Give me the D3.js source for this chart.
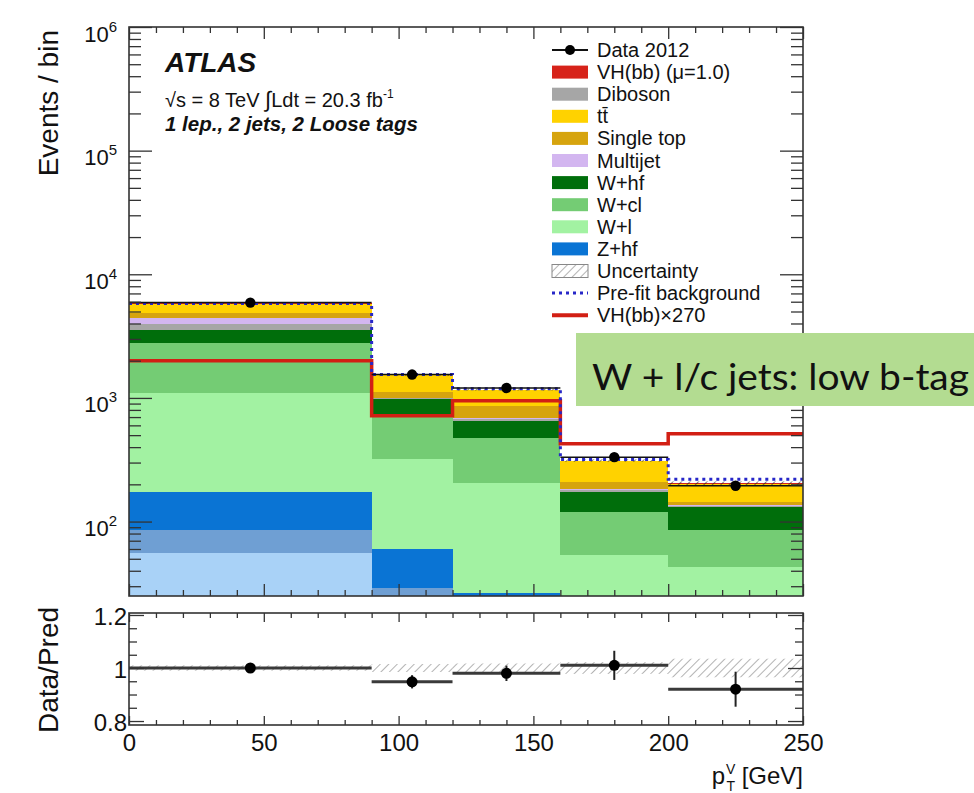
<!DOCTYPE html>
<html>
<head>
<meta charset="utf-8">
<script src="https://cdn.jsdelivr.net/npm/d3@7"></script>
<style>
  body { margin: 0; background: #fff; }
  svg { display: block; }
  text { font-family: "Liberation Sans", Arial, Helvetica, sans-serif; fill: #111; }
</style>
</head>
<body>
<svg id="chart" width="974" height="793"></svg>
<script>
// ---- binning (pT^V in GeV) ----
const binEdges = [0, 90, 120, 160, 200, 250];

// ---- stacked predictions per bin, bottom to top ----
const zl        = [56, 20, 14, 6, 4];
const zcl       = [29.5, 9, 5, 3, 2];
const zhf       = [87.5, 31, 7.5, 4, 3];
const wl        = [921, 261, 180, 41, 34];
const wcl       = [1700, 423, 267, 66, 42.5];
const whf       = [770, 241, 172, 52, 44.5];
const diboson   = [420, 15, 30, 8, 4];
const multijet  = [430, 5, 14, 2, 1];
const singleTop = [450, 117, 173, 28, 9];
const ttbar     = [936, 400, 302, 100, 58];
const vhbb      = [7.4, 2.65, 3.5, 1.6, 1.9];

// ---- overlays ----
const dataCounts  = [5900, 1545, 1202, 332, 195];
const prefitBkg   = [5800, 1545, 1185, 318, 220];
const vhScaled    = [2000, 716, 948, 425, 512];   // VH(bb) x 270
const uncFraction = [0.01, 0.015, 0.017, 0.022, 0.035];

// ---- ratio panel ----
const ratioValues = [1.0, 0.948, 0.98, 1.01, 0.92];
const ratioErrors = [0.013, 0.025, 0.029, 0.055, 0.066];

// ---- tick labels ----
const xTickLabels = [0, 50, 100, 150, 200, 250];
const logTickLabels = [100, 1000, 10000, 100000, 1000000];
const ratioTickLabels = [0.8, 1, 1.2];

const layers = [
  { key: "zl",        values: zl,        color: "#a9d2f7" },
  { key: "zcl",       values: zcl,       color: "#6f9fd3" },
  { key: "zhf",       values: zhf,       color: "#0a74d4" },
  { key: "wl",        values: wl,        color: "#a2f2a2" },
  { key: "wcl",       values: wcl,       color: "#74cc74" },
  { key: "whf",       values: whf,       color: "#006e0b" },
  { key: "diboson",   values: diboson,   color: "#a6a6a6" },
  { key: "multijet",  values: multijet,  color: "#d3b6f0" },
  { key: "singleTop", values: singleTop, color: "#d6a40e" },
  { key: "ttbar",     values: ttbar,     color: "#ffd200" },
  { key: "vhbb",      values: vhbb,      color: "#d7231a" }
];

const legendItems = [
  { label: "Data 2012",            type: "data" },
  { label: "VH(bb) (\u03bc=1.0)",  type: "fill", color: "#d7231a" },
  { label: "Diboson",              type: "fill", color: "#a6a6a6" },
  { label: "tt\u0304",             type: "fill", color: "#ffd200" },
  { label: "Single top",           type: "fill", color: "#d6a40e" },
  { label: "Multijet",             type: "fill", color: "#d3b6f0" },
  { label: "W+hf",                 type: "fill", color: "#006e0b" },
  { label: "W+cl",                 type: "fill", color: "#74cc74" },
  { label: "W+l",                  type: "fill", color: "#a2f2a2" },
  { label: "Z+hf",                 type: "fill", color: "#0a74d4" },
  { label: "Uncertainty",          type: "hatch" },
  { label: "Pre-fit background",   type: "prefit" },
  { label: "VH(bb)\u00d7270",      type: "redline" }
];

const svg = d3.select("#chart");
const L = 129, R = 803;
const mainTop = 27, mainBot = 596;
const ratTop = 613, ratBot = 725;

const x = d3.scaleLinear().domain([0, 250]).range([L, R]);
const y = d3.scaleLog().domain([25, 1e6]).range([mainBot, mainTop]).clamp(true);
const yr = d3.scaleLinear().domain([0.785, 1.2075]).range([ratBot, ratTop]);

// patterns and clips
const defs = svg.append("defs");
const hp = defs.append("pattern").attr("id", "hatch").attr("patternUnits", "userSpaceOnUse")
  .attr("width", 6).attr("height", 6).attr("patternTransform", "rotate(45)");
hp.append("line").attr("x1", 0).attr("y1", 0).attr("x2", 0).attr("y2", 6)
  .attr("stroke", "#222").attr("stroke-width", 1.2);
const hg = defs.append("pattern").attr("id", "hatchGray").attr("patternUnits", "userSpaceOnUse")
  .attr("width", 6).attr("height", 6).attr("patternTransform", "rotate(45)");
hg.append("line").attr("x1", 0).attr("y1", 0).attr("x2", 0).attr("y2", 6)
  .attr("stroke", "#8a8a8a").attr("stroke-width", 1.3);
defs.append("clipPath").attr("id", "clipMain").append("rect")
  .attr("x", L).attr("y", mainTop).attr("width", R - L).attr("height", mainBot - mainTop);
defs.append("clipPath").attr("id", "clipRatio").append("rect")
  .attr("x", L).attr("y", ratTop).attr("width", R - L).attr("height", ratBot - ratTop);

const bins = d3.range(binEdges.length - 1);

// ---------- main panel ----------
const gMain = svg.append("g").attr("clip-path", "url(#clipMain)");

const table = bins.map(i => {
  const row = {};
  layers.forEach(l => { row[l.key] = l.values[i]; });
  return row;
});
const stacked = d3.stack().keys(layers.map(l => l.key))(table);

stacked.forEach((series, li) => {
  gMain.append("g").selectAll("rect").data(series).join("rect")
    .attr("x", (d, i) => x(binEdges[i]))
    .attr("width", (d, i) => x(binEdges[i + 1]) - x(binEdges[i]))
    .attr("y", d => y(d[1]))
    .attr("height", d => Math.max(0, y(Math.max(d[0], 1)) - y(d[1])))
    .attr("fill", layers[li].color)
    .attr("shape-rendering", "crispEdges");
});

const totals = bins.map(i => d3.sum(layers, l => l.values[i]));

// uncertainty band
gMain.append("g").selectAll("rect").data(bins).join("rect")
  .attr("x", i => x(binEdges[i]))
  .attr("width", i => x(binEdges[i + 1]) - x(binEdges[i]))
  .attr("y", i => y(totals[i] * (1 + uncFraction[i])))
  .attr("height", i => y(totals[i] * (1 - uncFraction[i])) - y(totals[i] * (1 + uncFraction[i])))
  .attr("fill", "url(#hatch)");

// step lines
function stepPath(vals, scaleY) {
  const pts = [];
  bins.forEach(i => {
    pts.push([x(binEdges[i]), scaleY(vals[i])]);
    pts.push([x(binEdges[i + 1]), scaleY(vals[i])]);
  });
  return d3.line()(pts);
}

gMain.append("path").attr("d", stepPath(vhScaled, y))
  .attr("fill", "none").attr("stroke", "#d21f14").attr("stroke-width", 3.5);
gMain.append("path").attr("d", stepPath(prefitBkg, y))
  .attr("fill", "none").attr("stroke", "#2727c8").attr("stroke-width", 3)
  .attr("stroke-dasharray", "3,4");

// data points
const centers = bins.map(i => (binEdges[i] + binEdges[i + 1]) / 2);
const gData = gMain.append("g");
bins.forEach(i => {
  const n = dataCounts[i], e = Math.sqrt(n);
  gData.append("line").attr("x1", x(binEdges[i])).attr("x2", x(binEdges[i + 1]))
    .attr("y1", y(n)).attr("y2", y(n)).attr("stroke", "#111").attr("stroke-width", 1.5);
  gData.append("line").attr("x1", x(centers[i])).attr("x2", x(centers[i]))
    .attr("y1", y(n + e)).attr("y2", y(n - e)).attr("stroke", "#111").attr("stroke-width", 1.5);
  gData.append("circle").attr("cx", x(centers[i])).attr("cy", y(n)).attr("r", 5.2).attr("fill", "#000");
});

// frame & ticks (main)
function tickAxis(axisFn, scale, vals, size, tx, ty) {
  const g = svg.append("g").attr("transform", `translate(${tx},${ty})`)
    .call(axisFn(scale).tickValues(vals).tickSize(size).tickFormat(""));
  g.select(".domain").remove();
  g.selectAll(".tick line").attr("stroke", "#333").attr("stroke-width", 1.3);
  return g;
}
const xMajor = d3.range(0, 251, 50);
const xMinor = d3.range(0, 251, 10).filter(v => v % 50 !== 0);
const logMinor = [];
for (let k = 1; k <= 5; k++) for (let m = 2; m <= 9; m++) {
  const v = m * Math.pow(10, k);
  if (v >= 25 && v <= 1e6) logMinor.push(v);
}
tickAxis(d3.axisBottom, x, xMajor, -12, 0, mainBot);
tickAxis(d3.axisBottom, x, xMinor, -6, 0, mainBot);
tickAxis(d3.axisTop, x, xMajor, -12, 0, mainTop);
tickAxis(d3.axisTop, x, xMinor, -6, 0, mainTop);
tickAxis(d3.axisLeft, y, logTickLabels, -23, L, 0);
tickAxis(d3.axisLeft, y, logMinor, -12, L, 0);
tickAxis(d3.axisRight, y, logTickLabels, -23, R, 0);
tickAxis(d3.axisRight, y, logMinor, -12, R, 0);

svg.append("rect").attr("x", L).attr("y", mainTop).attr("width", R - L).attr("height", mainBot - mainTop)
  .attr("fill", "none").attr("stroke", "#333").attr("stroke-width", 1.6);

// log labels 10^n
const gLogLab = svg.append("g").attr("transform", `translate(${L},0)`)
  .call(d3.axisLeft(y).tickValues(logTickLabels).tickSize(0).tickPadding(0).tickFormat(""));
gLogLab.select(".domain").remove();
gLogLab.selectAll(".tick").each(function (d) {
  const t = d3.select(this).select("text")
    .attr("x", -12).attr("dy", null).attr("y", 14)
    .attr("text-anchor", "end").attr("font-size", 22).attr("fill", "#222")
    .style("font-family", '"Liberation Sans", Arial, sans-serif');
  t.append("tspan").text("10");
  t.append("tspan").text(Math.round(Math.log10(d))).attr("font-size", 15).attr("dy", -10);
});

// ---------- ratio panel ----------
const gRat = svg.append("g").attr("clip-path", "url(#clipRatio)");
gRat.append("g").selectAll("rect").data(bins).join("rect")
  .attr("x", i => x(binEdges[i]))
  .attr("width", i => x(binEdges[i + 1]) - x(binEdges[i]))
  .attr("y", i => yr(1 + uncFraction[i]))
  .attr("height", i => yr(1 - uncFraction[i]) - yr(1 + uncFraction[i]))
  .attr("fill", "url(#hatchGray)");

bins.forEach(i => {
  gRat.append("line").attr("x1", x(binEdges[i])).attr("x2", x(binEdges[i + 1]))
    .attr("y1", yr(ratioValues[i])).attr("y2", yr(ratioValues[i]))
    .attr("stroke", "#3a3a3a").attr("stroke-width", 3);
  gRat.append("line").attr("x1", x(centers[i])).attr("x2", x(centers[i]))
    .attr("y1", yr(ratioValues[i] + ratioErrors[i])).attr("y2", yr(ratioValues[i] - ratioErrors[i]))
    .attr("stroke", "#222").attr("stroke-width", 2);
  gRat.append("circle").attr("cx", x(centers[i])).attr("cy", yr(ratioValues[i])).attr("r", 5.5).attr("fill", "#000");
});

const rMajor = [0.8, 1.0, 1.2];
const rMinor = d3.range(0.8, 1.2001, 0.05).filter(v => Math.abs(v - 1) > 1e-6 && Math.abs(v - 0.8) > 1e-6 && Math.abs(v - 1.2) > 1e-6);
tickAxis(d3.axisBottom, x, xMajor, -9, 0, ratBot);
tickAxis(d3.axisBottom, x, xMinor, -5, 0, ratBot);
tickAxis(d3.axisTop, x, xMajor, -9, 0, ratTop);
tickAxis(d3.axisTop, x, xMinor, -5, 0, ratTop);
tickAxis(d3.axisLeft, yr, rMajor, -15, L, 0);
tickAxis(d3.axisLeft, yr, rMinor, -8, L, 0);
tickAxis(d3.axisRight, yr, rMajor, -15, R, 0);
tickAxis(d3.axisRight, yr, rMinor, -8, R, 0);

svg.append("rect").attr("x", L).attr("y", ratTop).attr("width", R - L).attr("height", ratBot - ratTop)
  .attr("fill", "none").attr("stroke", "#333").attr("stroke-width", 1.6);

// ratio y labels
const gRLab = svg.append("g").attr("transform", `translate(${L},0)`)
  .call(d3.axisLeft(yr).tickValues(ratioTickLabels).tickSize(0).tickPadding(2).tickFormat(d3.format("~g")));
gRLab.select(".domain").remove();
gRLab.selectAll(".tick text").attr("font-size", 24).attr("fill", "#222")
  .style("font-family", '"Liberation Sans", Arial, sans-serif').attr("dy", "0.4em");

// x labels
const gXLab = svg.append("g").attr("transform", `translate(0,${ratBot})`)
  .call(d3.axisBottom(x).tickValues(xTickLabels).tickSize(0).tickPadding(9).tickFormat(d3.format("d")));
gXLab.select(".domain").remove();
gXLab.selectAll(".tick text").attr("font-size", 24).attr("fill", "#222")
  .style("font-family", '"Liberation Sans", Arial, sans-serif');

// axis titles
svg.append("text").attr("transform", "translate(58,30) rotate(-90)")
  .attr("text-anchor", "end").attr("font-size", 28).attr("fill", "#333").text("Events / bin");
svg.append("text").attr("transform", `translate(58,${(ratTop + ratBot) / 2 + 1}) rotate(-90)`)
  .attr("text-anchor", "middle").attr("font-size", 28).attr("fill", "#333").text("Data/Pred");
const xt = svg.append("text").attr("x", R).attr("y", 784).attr("text-anchor", "end")
  .attr("font-size", 24).attr("fill", "#333");
xt.append("tspan").text("p");
xt.append("tspan").text("V").attr("font-size", 14).attr("dy", -10).attr("dx", 1);
xt.append("tspan").text("T").attr("font-size", 14).attr("dy", 17).attr("dx", -9);
xt.append("tspan").text(" [GeV]").attr("dy", -7);

// ATLAS labels
svg.append("text").attr("x", 165).attr("y", 72).attr("font-size", 28)
  .attr("font-weight", "bold").attr("font-style", "italic").attr("fill", "#111").text("ATLAS");
const lumi = svg.append("text").attr("x", 165).attr("y", 107).attr("font-size", 20).attr("fill", "#333");
lumi.append("tspan").text("\u221as = 8 TeV ");
lumi.append("tspan").text("\u222b").attr("font-size", 22);
lumi.append("tspan").text("Ldt = 20.3 fb");
lumi.append("tspan").text("-1").attr("font-size", 12).attr("dy", -9);
svg.append("text").attr("x", 165).attr("y", 131).attr("font-size", 20.5)
  .attr("font-weight", "bold").attr("font-style", "italic").attr("fill", "#222")
  .text("1 lep., 2 jets, 2 Loose tags");

// legend
const legX0 = 552, legX1 = 588, legTxt = 597, legY0 = 50, legDy = 22.1;
const gLeg = svg.append("g");
legendItems.forEach((it, k) => {
  const cy = legY0 + k * legDy;
  const sw = 13;
  if (it.type === "data") {
    gLeg.append("line").attr("x1", legX0).attr("x2", legX1).attr("y1", cy).attr("y2", cy)
      .attr("stroke", "#111").attr("stroke-width", 2);
    gLeg.append("circle").attr("cx", (legX0 + legX1) / 2).attr("cy", cy).attr("r", 5).attr("fill", "#000");
  } else if (it.type === "fill") {
    gLeg.append("rect").attr("x", legX0).attr("y", cy - sw / 2).attr("width", legX1 - legX0).attr("height", sw)
      .attr("fill", it.color);
  } else if (it.type === "hatch") {
    gLeg.append("rect").attr("x", legX0).attr("y", cy - sw / 2).attr("width", legX1 - legX0).attr("height", sw)
      .attr("fill", "url(#hatchGray)").attr("stroke", "#888").attr("stroke-width", 1);
  } else if (it.type === "prefit") {
    gLeg.append("line").attr("x1", legX0).attr("x2", legX1).attr("y1", cy).attr("y2", cy)
      .attr("stroke", "#2727c8").attr("stroke-width", 3).attr("stroke-dasharray", "3,4");
  } else if (it.type === "redline") {
    gLeg.append("line").attr("x1", legX0).attr("x2", legX1).attr("y1", cy).attr("y2", cy)
      .attr("stroke", "#d21f14").attr("stroke-width", 4);
  }
  gLeg.append("text").attr("x", legTxt).attr("y", cy + 7).attr("font-size", 20)
    .attr("fill", "#111").text(it.label);
});

// region tag
svg.append("rect").attr("x", 576).attr("y", 333).attr("width", 398).attr("height", 73).attr("fill", "#b3dc91");
svg.append("text").attr("x", 592).attr("y", 390).attr("font-size", 37)
  .style("font-family", "Lato, 'Open Sans', sans-serif").attr("fill", "#111")
  .attr("textLength", 377).attr("lengthAdjust", "spacingAndGlyphs")
  .text("W + l/c jets: low b-tag");
</script>
</body>
</html>
